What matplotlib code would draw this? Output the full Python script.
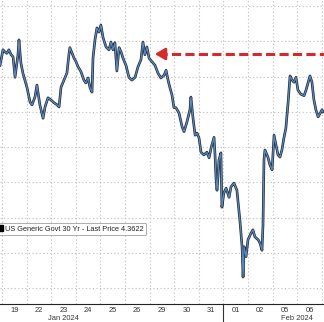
import matplotlib
matplotlib.use("Agg")
import matplotlib.pyplot as plt
from matplotlib.lines import Line2D

plt.rcParams['font.family'] = ['Liberation Sans', 'DejaVu Sans']

# trading-day position (1 = Jan 19, 10 = Feb 01, ...) and 30y yield
t = [0.92, 1.04, 1.12, 1.20, 1.28, 1.37, 1.45, 1.53, 1.65, 1.69, 1.77, 1.85,
     2.02, 2.14, 2.22, 2.34, 2.42, 2.54, 2.67, 2.75, 2.87, 2.99, 3.11, 3.24,
     3.32, 3.40, 3.52, 3.64, 3.72, 3.76, 3.85, 3.93, 4.01, 4.09, 4.21, 4.33,
     4.41, 4.50, 4.58, 4.66, 4.70, 4.78, 4.86, 4.94, 5.02, 5.11, 5.23, 5.35,
     5.43, 5.51, 5.59, 5.67, 5.76, 5.84, 5.92, 6.04, 6.16, 6.28, 6.41, 6.53,
     6.65, 6.73, 6.81, 6.89, 6.98, 7.10, 7.22, 7.34, 7.46,
     7.59, 7.67, 7.75, 7.83, 7.91, 7.99, 8.07, 8.20, 8.32, 8.40, 8.52, 8.64,
     8.68, 8.76, 8.85, 8.93, 9.01, 9.09, 9.21, 9.33, 9.42, 9.50, 9.62, 9.66,
     9.70, 9.74, 9.78, 9.82, 9.90, 9.94, 10.02, 10.11, 10.23, 10.31, 10.43,
     10.55, 10.63, 10.68, 10.76, 10.80, 10.84, 10.92, 11.00, 11.12, 11.20,
     11.28, 11.41, 11.49, 11.57, 11.61, 11.65, 11.69, 11.81, 11.89, 11.98,
     12.06, 12.14, 12.22, 12.30, 12.38, 12.46, 12.54, 12.63, 12.71, 12.79,
     12.87, 12.95, 13.03, 13.15, 13.28, 13.36, 13.44, 13.52, 13.60, 13.68,
     13.76, 13.85, 13.93, 14.01, 14.05]
yld = [4.416, 4.438, 4.435, 4.433, 4.438, 4.431, 4.428, 4.399, 4.431, 4.452, 4.419, 4.405,
       4.384, 4.364, 4.360, 4.371, 4.388, 4.360, 4.341, 4.357, 4.370, 4.367, 4.363, 4.360,
       4.357, 4.385, 4.395, 4.405, 4.431, 4.441, 4.433, 4.426, 4.421, 4.414, 4.407, 4.395,
       4.391, 4.398, 4.384, 4.378, 4.426, 4.452, 4.469, 4.463, 4.473, 4.455, 4.442, 4.438,
       4.449, 4.438, 4.448, 4.408, 4.441, 4.435, 4.426, 4.416, 4.399, 4.395, 4.399, 4.414,
       4.424, 4.449, 4.431, 4.442, 4.426, 4.421, 4.416, 4.405, 4.398,
       4.402, 4.409, 4.395, 4.384, 4.374, 4.356, 4.356, 4.348, 4.329, 4.322, 4.336, 4.353,
       4.371, 4.343, 4.317, 4.320, 4.313, 4.293, 4.289, 4.293, 4.285, 4.299, 4.314, 4.289,
       4.256, 4.239, 4.258, 4.282, 4.292, 4.215, 4.235, 4.242, 4.229, 4.244, 4.249,
       4.239, 4.211, 4.193, 4.159, 4.116, 4.159, 4.145, 4.169, 4.178, 4.183,
       4.173, 4.169, 4.164, 4.154, 4.190, 4.282, 4.296, 4.286, 4.275, 4.268,
       4.317, 4.303, 4.289, 4.286, 4.296, 4.313, 4.327, 4.363, 4.401, 4.395,
       4.392, 4.399, 4.381, 4.375, 4.373, 4.381, 4.391, 4.401, 4.392, 4.367,
       4.353, 4.343, 4.348, 4.353, 4.350]

day_labels = ['19', '22', '23', '24', '25', '26', '29', '30', '31', '01', '02', '05', '06']
day_pos = [1.5, 2.5, 3.5, 4.5, 5.5, 6.5, 7.5, 8.5, 9.5, 10.5, 11.5, 12.5, 13.5]
month_labels = ['Jan 2024', 'Feb 2024']
month_pos = [3.48, 13.0]
month_break = 10
grid_days = list(range(1, 15))
grid_vals = [4.10, 4.15, 4.20, 4.25, 4.30, 4.35, 4.40, 4.45, 4.50]
ref_level = 4.432
ref_start = 7.10
legend_text = 'US Generic Govt 30 Yr - Last Price 4.3622'

fig = plt.figure(figsize=(3.24, 3.22), dpi=100)
ax = fig.add_axes([0, 18 / 322, 1, 304 / 322])
ax.set_xlim(0.919, 14.09)
ax.set_ylim(4.0779, 4.5085)

for g in grid_days:
    ax.axvline(g, color='#bdbdbd', lw=0.8, ls=(0, (1, 2.2)), zorder=1)
for g in grid_vals:
    ax.axhline(g, color='#bdbdbd', lw=0.8, ls=(0, (1, 2.2)), zorder=1)

ax.plot(t, yld, color='#1e2633', lw=1.9, zorder=3)
ax.plot(t, yld, color='#5a88bd', lw=0.9, zorder=4)

# red dashed reference line with arrowhead
ax.plot([ref_start + 0.25, 14.2], [ref_level, ref_level], color='#d42a2a', lw=2.2,
        dashes=(3, 1.4), zorder=5)
ax.annotate('', xy=(ref_start, ref_level), xytext=(ref_start + 0.45, ref_level),
            arrowprops=dict(arrowstyle='-|>,head_length=0.6,head_width=0.35',
                            color='#d42a2a', lw=2.0), zorder=6)

for s in ['top', 'left', 'right']:
    ax.spines[s].set_visible(False)
ax.spines['bottom'].set_color('#222222')
ax.spines['bottom'].set_linewidth(0.8)
ax.set_yticks([])
ax.set_xticks(day_pos)
ax.set_xticklabels(day_labels, fontsize=5.4, color='#333333')
ax.tick_params(axis='x', length=0, pad=2.5)

for lab, p in zip(month_labels, month_pos):
    ax.text(p, -0.047, lab, transform=ax.get_xaxis_transform(), ha='center', va='center',
            fontsize=5.4, color='#333333')
ax.plot([month_break, month_break], [0, -0.07], transform=ax.get_xaxis_transform(),
        color='#333333', lw=0.8, clip_on=False)

h = Line2D([], [], marker='s', color='black', linestyle='none', markersize=4)
leg = ax.legend([h], [legend_text], loc='upper left', bbox_to_anchor=(-0.015, 0.267),
                fontsize=5.3, frameon=True, fancybox=True, handlelength=0.6,
                handletextpad=0.4, borderpad=0.35, borderaxespad=0)
leg.get_frame().set_edgecolor('#888888')
leg.get_frame().set_linewidth(0.6)
for txt in leg.get_texts():
    txt.set_color('#222222')

fig.savefig('out.png', dpi=100)
